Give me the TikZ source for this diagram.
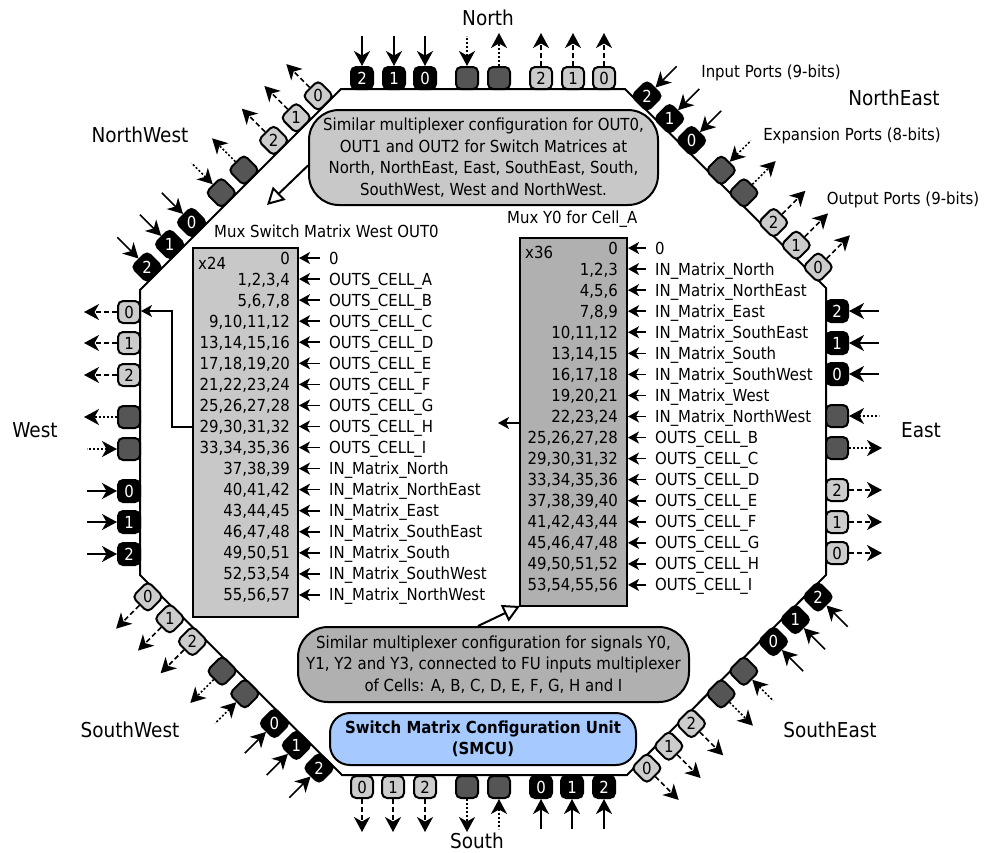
\documentclass[tikz,border=0pt]{standalone}
\usepackage{fontspec}
\setmainfont{DejaVu Sans Condensed}
\usepackage{graphicx}
\usetikzlibrary{arrows.meta, calc}
\definecolor{myblack}{RGB}{0,0,0}
\definecolor{mydark}{RGB}{85,85,85}
\definecolor{mylight}{RGB}{204,204,204}
\definecolor{mymuxa}{RGB}{200,200,200}
\definecolor{mymuxb}{RGB}{176,176,176}
\definecolor{myblue}{RGB}{166,202,255}
\newcommand{\smallfont}{\fontsize{16.6}{21.5}\selectfont}
\newcommand{\bigfont}{\fontsize{20.5}{24}\selectfont}
\tikzset{
  x=1pt, y=1pt,
  every node/.style={font=\smallfont, inner sep=0pt},
  inport/.style={rectangle, draw=black, fill=myblack, text=white, minimum size=22pt,
    rounded corners=5pt, line width=2pt},
  expport/.style={inport, fill=mydark},
  outport/.style={inport, fill=mylight, text=black},
  inwire/.style={{Stealth[length=15pt, width=16pt, inset=4.5pt]}-, line width=1.6pt},
  expinwire/.style={inwire, dash pattern=on 2pt off 2pt},
  expoutwire/.style={-{Stealth[length=15pt, width=16pt, inset=4.5pt]}, line width=1.6pt, dash pattern=on 2pt off 2pt},
  outwire/.style={-{Stealth[length=15pt, width=16pt, inset=4.5pt]}, line width=1.6pt, dash pattern=on 5pt off 3pt},
  rowarrow/.style={-{Stealth[length=11pt, width=12pt, inset=3pt]}, line width=1.6pt},
  muxbox/.style={rectangle, draw=black, line width=2pt},
  noteblock/.style={rectangle, draw=black, line width=2pt, rounded corners=30pt, align=center},
  notearrow/.style={-{Triangle[open, fill=white, length=17pt, width=18pt]}, line width=2pt},
  sidename/.style={font=\bigfont},
  rowidx/.style={anchor=east, text height=14pt, text depth=2pt},
  rowsig/.style={anchor=west, text height=14pt, text depth=2pt, inner xsep=9pt}
}
\begin{document}
\begin{tikzpicture}
  \useasboundingbox (0,0) rectangle (985,-852);

  % Octagon outline
  \draw[line width=2pt, line join=round] (341,-89) -- (625,-89) -- (826,-288) -- (826,-575)
    -- (627,-775) -- (342,-775) -- (140,-575) -- (140,-290) -- cycle;

  % Ports, eight on every side, clockwise
  \foreach \side/\sx/\sy/\ang in {N/362/78/0, NE/647/96/-45, E/837/311/-90, SE/818/597/-135,
      S/604/787/180, SW/319/768/135, W/129/554/90, NW/147/267/45} {
    \pgfmathtruncatemacro{\back}{-\ang}
    \foreach \idx/\off/\kind/\lab/\wire/\len in {a/0/inport/2/inwire/42, b/32/inport/1/inwire/42,
        c/63/inport/0/inwire/42, d/105/expport/{}/expinwire/42, e/137/expport/{}/expoutwire/45,
        f/179/outport/2/outwire/45, g/211/outport/1/outwire/45, h/242/outport/0/outwire/45} {
      \node[\kind, rotate=\ang] (\side\idx) at ($(\sx,-\sy)+(\ang:\off)$) {\rotatebox{\back}{\lab}};
      \coordinate (\side\idx end) at ($(\side\idx)+(\ang+90:\len)$);
      \draw[\wire] (\side\idx) -- (\side\idx end);
    }
  }

  % Mux West
  \node[muxbox, fill=mymuxa, minimum width=105pt, minimum height=369pt] (westmux) at (245.5,-432.5) {};
  \node[anchor=west] (westtitle) at (214,-231) {Mux Switch Matrix West OUT0};
  \node[anchor=west] (westcount) at (198,-263) {x24};
  \foreach \row/\sig [count=\n from 0] in {0/0, {1,2,3,4}/OUTS\_CELL\_A, {5,6,7,8}/OUTS\_CELL\_B,
      {9,10,11,12}/OUTS\_CELL\_C, {13,14,15,16}/OUTS\_CELL\_D, {17,18,19,20}/OUTS\_CELL\_E,
      {21,22,23,24}/OUTS\_CELL\_F, {25,26,27,28}/OUTS\_CELL\_G, {29,30,31,32}/OUTS\_CELL\_H,
      {33,34,35,36}/OUTS\_CELL\_I, {37,38,39}/IN\_Matrix\_North, {40,41,42}/IN\_Matrix\_NorthEast,
      {43,44,45}/IN\_Matrix\_East, {46,47,48}/IN\_Matrix\_SouthEast, {49,50,51}/IN\_Matrix\_South,
      {52,53,54}/IN\_Matrix\_SouthWest, {55,56,57}/IN\_Matrix\_NorthWest} {
    \node[rowidx] (westidx\n) at (290,-258-21.06*\n) {\row};
    \node[rowsig] (westsig\n) at (320,-258-21.06*\n) {\sig};
    \draw[rowarrow] (westsig\n.west) -- (westsig\n.west -| westmux.east);
  }

  % Mux Y0
  \node[muxbox, fill=mymuxb, minimum width=107pt, minimum height=368pt] (ymux) at (573.5,-422) {};
  \node[anchor=west] (ytitle) at (507,-219) {Mux Y0 for Cell\_A};
  \node[anchor=west] (ycount) at (525,-252) {x36};
  \foreach \row/\sig [count=\n from 0] in {0/0, {1,2,3}/IN\_Matrix\_North, {4,5,6}/IN\_Matrix\_NorthEast,
      {7,8,9}/IN\_Matrix\_East, {10,11,12}/IN\_Matrix\_SouthEast, {13,14,15}/IN\_Matrix\_South,
      {16,17,18}/IN\_Matrix\_SouthWest, {19,20,21}/IN\_Matrix\_West, {22,23,24}/IN\_Matrix\_NorthWest,
      {25,26,27,28}/OUTS\_CELL\_B, {29,30,31,32}/OUTS\_CELL\_C, {33,34,35,36}/OUTS\_CELL\_D,
      {37,38,39,40}/OUTS\_CELL\_E, {41,42,43,44}/OUTS\_CELL\_F, {45,46,47,48}/OUTS\_CELL\_G,
      {49,50,51,52}/OUTS\_CELL\_H, {53,54,55,56}/OUTS\_CELL\_I} {
    \node[rowidx] (yidx\n) at (618,-248-21.06*\n) {\row};
    \node[rowsig] (ysig\n) at (646,-248-21.06*\n) {\sig};
    \draw[rowarrow] (ysig\n.west) -- (ysig\n.west -| ymux.east);
  }

  % Mux outputs
  \coordinate (westjog) at (172,-427);
  \coordinate (westtip) at (141,-311);
  \draw[rowarrow] (westjog -| westmux.west) -- (westjog) |- (westtip);
  \coordinate (ytip) at (498,-423);
  \draw[rowarrow] (ytip -| ymux.west) -- (ytip);

  % Notes
  \node[noteblock, fill=mymuxa, minimum width=349pt, minimum height=95pt] (outnote) at (483.5,-157.5)
    {Similar multiplexer configuration for OUT0,\\ OUT1 and OUT2 for Switch Matrices at\\
     North, NorthEast, East, SouthEast, South,\\ SouthWest, West and NorthWest.};
  \coordinate (outnotetip) at (267,-205);
  \draw[notearrow] ([yshift=-8pt]outnote.west) -- (outnotetip);
  \node[noteblock, fill=mymuxb, minimum width=391pt, minimum height=75pt] (ynote) at (493.5,-664.5)
    {Similar multiplexer configuration for signals Y0,\\ Y1, Y2 and Y3, connected to FU inputs multiplexer\\
     of Cells: A, B, C, D, E, F, G, H and I};
  \coordinate (ynotetip) at (520,-606);
  \draw[notearrow] (ynote.north -| 478,0) -- (ynotetip);

  % SMCU
  \node[noteblock, fill=myblue, rounded corners=20pt, minimum width=306pt, minimum height=52pt,
    font=\smallfont\bfseries] (smcu) at (483,-739) {Switch Matrix Configuration Unit\\ (SMCU)};

  % Side names
  \node[sidename] (northname) at (488,-18) {North};
  \node[sidename] (northeastname) at (894,-98) {NorthEast};
  \node[sidename] (eastname) at (921,-430) {East};
  \node[sidename] (southeastname) at (830,-730) {SouthEast};
  \node[sidename] (southname) at (477,-841) {South};
  \node[sidename] (southwestname) at (130,-730) {SouthWest};
  \node[sidename] (westname) at (35,-430) {West};
  \node[sidename] (northwestname) at (140,-135) {NorthWest};

  % Port kinds
  \node (inputname) at (771,-73) {Input Ports (9-bits)};
  \node (expname) at (852,-136) {Expansion Ports (8-bits)};
  \node (outputname) at (903,-200) {Output Ports (9-bits)};
\end{tikzpicture}
\end{document}
